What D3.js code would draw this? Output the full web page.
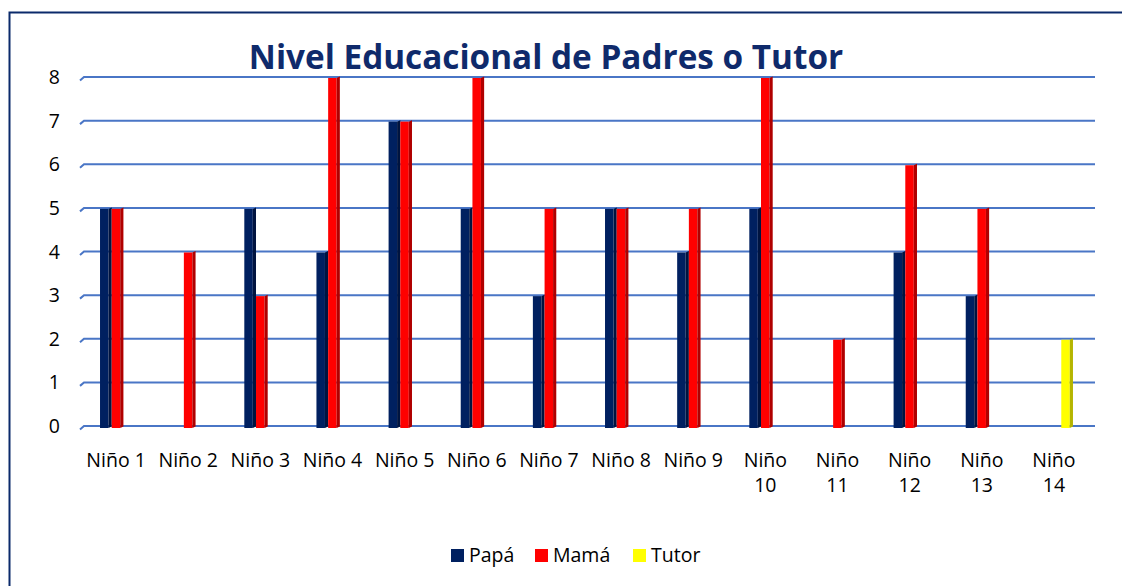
<!DOCTYPE html>
<html>
<head>
<meta charset="utf-8">
<script src="https://cdn.jsdelivr.net/npm/d3@7"></script>
<style>
  body { margin: 0; background: #fff; }
  svg text { font-family: "Open Sans", sans-serif; }
</style>
</head>
<body>
<svg width="1122" height="586"></svg>
<script>
// chart data
const categories = ["Niño 1", "Niño 2", "Niño 3", "Niño 4", "Niño 5", "Niño 6", "Niño 7",
  "Niño 8", "Niño 9", "Niño 10", "Niño 11", "Niño 12", "Niño 13", "Niño 14"];
const seriesNames = ["Papá", "Mamá", "Tutor"];
const papa  = [5, 0, 5, 4, 7, 5, 3, 5, 4, 5, 0, 4, 3, 0];
const mama  = [5, 4, 3, 8, 7, 8, 5, 5, 5, 8, 2, 6, 5, 0];
const tutor = [0, 0, 0, 0, 0, 0, 0, 0, 0, 0, 0, 0, 0, 2];
const yTicks = [0, 1, 2, 3, 4, 5, 6, 7, 8];
const colors = ["#002060", "#ff0000", "#ffff00"];
const sideColors = ["#001440", "#b00000", "#b5b500"];

const svg = d3.select("svg");

// outer chart border (only top and left show inside the picture)
svg.append("rect")
  .attr("x", 9.5).attr("y", 12.5)
  .attr("width", 1200).attr("height", 700)
  .attr("fill", "none").attr("stroke", "#0b2a6b").attr("stroke-width", 2);

const x = d3.scaleBand().domain(categories).range([80, 1090]);
const y = d3.scaleLinear().domain([0, 8]).range([426, 77]);
const barW = 11.7, sideW = 3.2;
const xs = d3.scaleBand().domain(seriesNames).range([-barW * 1.5 + 1.5, barW * 1.5 + 1.5]);

// gridlines with the little 3D floor jog on the left
const grid = svg.append("g");
yTicks.forEach(t => {
  const yy = y(t);
  grid.append("path")
    .attr("d", `M80,${yy + 3.5} L84,${yy} L1095,${yy}`)
    .attr("fill", "none").attr("stroke", "#4a76c6").attr("stroke-width", 2);
});

// y tick labels
svg.append("g").selectAll("text").data(yTicks).join("text")
  .attr("x", 60).attr("y", d => y(d) + 7)
  .attr("text-anchor", "end")
  .attr("font-size", 19.5).attr("fill", "#000")
  .text(d => d);

// bars
const series = [papa, mama, tutor];
series.forEach((vals, si) => {
  const g = svg.append("g");
  vals.forEach((v, i) => {
    if (!v) return;
    const x0 = x(categories[i]) + x.bandwidth() / 2 + xs(seriesNames[si]);
    const top = y(v) + 1, bot = y(0) + 2;
    g.append("rect")
      .attr("x", x0).attr("y", top)
      .attr("width", barW - sideW).attr("height", bot - top)
      .attr("fill", colors[si]);
    g.append("path")
      .attr("d", `M${x0 + barW - sideW},${top} L${x0 + barW},${top - 1.5} L${x0 + barW},${bot - 1.5} L${x0 + barW - sideW},${bot} Z`)
      .attr("fill", sideColors[si]);
  });
});

// category labels, wrapped when too wide for the band
const xl = svg.append("g").selectAll("text").data(categories).join("text")
  .attr("x", d => x(d) + x.bandwidth() / 2)
  .attr("y", 467)
  .attr("text-anchor", "middle")
  .attr("font-size", 19.5).attr("fill", "#000")
  .text(d => d);
xl.each(function (d) {
  const t = d3.select(this);
  if (this.getComputedTextLength() > x.bandwidth() * 0.85) {
    const parts = d.split(" ");
    t.text(null);
    parts.forEach((p, k) => {
      t.append("tspan").attr("x", x(d) + x.bandwidth() / 2)
        .attr("dy", k ? 25 : 0).text(p);
    });
  }
});

// title
svg.append("text")
  .attr("x", 546).attr("y", 69)
  .attr("text-anchor", "middle")
  .attr("font-size", 33.3).attr("font-weight", "bold")
  .attr("fill", "#0f2a6b")
  .text("Nivel Educacional de Padres o Tutor");

// legend
const legendX = [451, 535, 633];
const leg = svg.append("g").selectAll("g").data(seriesNames).join("g")
  .attr("transform", (d, i) => `translate(${legendX[i]},549)`);
leg.append("rect").attr("width", 13).attr("height", 13)
  .attr("fill", (d, i) => colors[i]);
leg.append("text").attr("x", 18).attr("y", 13)
  .attr("font-size", 19.5).attr("fill", "#000")
  .text(d => d);
</script>
</body>
</html>
